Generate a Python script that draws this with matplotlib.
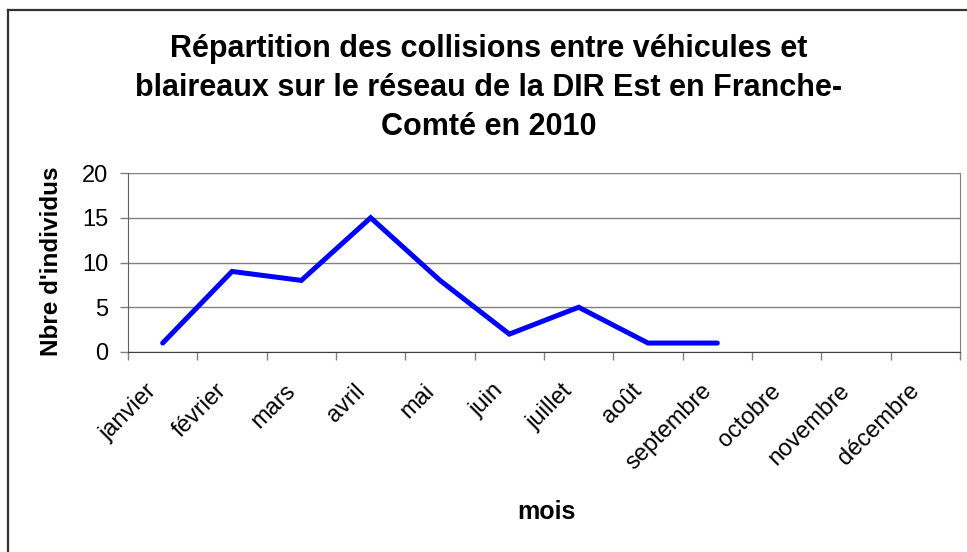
import matplotlib.pyplot as plt
from matplotlib.lines import Line2D
from matplotlib.transforms import ScaledTranslation
import numpy as np

plt.rcParams['font.family'] = ['Liberation Sans', 'DejaVu Sans']

mois = ['janvier', 'février', 'mars', 'avril', 'mai', 'juin', 'juillet',
        'août', 'septembre', 'octobre', 'novembre', 'décembre']
individus = [1, 9, 8, 15, 8, 2, 5, 1, 1]

W, H = 967, 552
fig = plt.figure(figsize=(W / 100, H / 100), dpi=100)
ax = fig.add_axes([128 / W, 1 - 352 / H, 832 / W, 179 / H])

x = np.arange(len(individus))
ax.plot(x, individus, color='#0000ff', lw=3.6, solid_capstyle='round',
        solid_joinstyle='miter', zorder=3)

ax.set_xlim(-0.5, len(mois) - 0.5)
ax.set_ylim(0, 20)
ax.set_yticks([0, 5, 10, 15, 20])
ax.yaxis.grid(True, color='#808080', lw=1)
ax.set_axisbelow(True)

# ticks between categories, labels at centres
ax.set_xticks(np.arange(len(mois) + 1) - 0.5)
ax.set_xticklabels([])
ax.set_xticks(np.arange(len(mois)), minor=True)
ax.set_xticklabels(mois, minor=True, rotation=45, ha='right',
                   rotation_mode='anchor', fontsize=17)
ax.tick_params(axis='x', which='minor', length=0, pad=20)
ax.tick_params(axis='x', which='major', length=6, width=1, color='#808080',
               direction='out')
ax.tick_params(axis='y', length=6, width=1, color='#808080', labelsize=17,
               direction='out', pad=8)
shift = ScaledTranslation(-17 / 100, 0, fig.dpi_scale_trans)
for lab in ax.get_xticklabels(minor=True):
    lab.set_transform(lab.get_transform() + shift)

ax.spines['top'].set_visible(False)
ax.spines['right'].set_color('#808080')
ax.spines['left'].set_color('#606060')
ax.spines['bottom'].set_color('#404040')

fig.text(52 / W, 1 - 261 / H, "Nbre d'individus", rotation=90,
         ha='center', va='center', fontsize=17.5, fontweight='bold')
fig.text(546 / W, 1 - 512 / H, 'mois', ha='center', va='center',
         fontsize=18, fontweight='bold')

fig.text(489 / W, 1 - 88 / H, "Répartition des collisions entre véhicules et\n"
         "blaireaux sur le réseau de la DIR Est en Franche-\nComté en 2010",
         ha='center', va='center', fontsize=22, fontweight='bold',
         linespacing=1.38)

# outer chart frame (only left and top edges fall inside the picture)
fig.add_artist(Line2D([8 / W, 8 / W], [0, 1 - 10 / H], transform=fig.transFigure,
                      color='#333333', lw=1.6))
fig.add_artist(Line2D([8 / W, 1], [1 - 10 / H, 1 - 10 / H],
                      transform=fig.transFigure, color='#333333', lw=1.6))

fig.savefig('out.png', dpi=100)
